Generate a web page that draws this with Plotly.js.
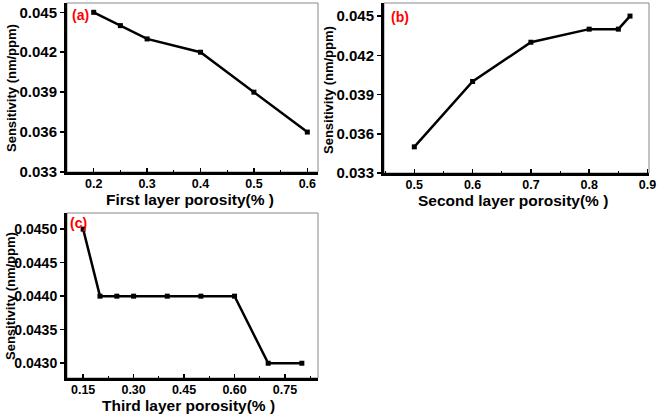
<!DOCTYPE html>
<html>
<head>
<meta charset="utf-8">
<script src="https://cdn.plot.ly/plotly-3.0.1.min.js"></script>
<style>html,body{margin:0;padding:0;background:#fff;}#chart{width:661px;height:414px;}</style>
</head>
<body>
<div id="chart"></div>
<script>
// Panel (a): first layer porosity
const firstPorosity = [0.2, 0.25, 0.3, 0.4, 0.5, 0.6];
const firstSensitivity = [0.045, 0.044, 0.043, 0.042, 0.039, 0.036];
// Panel (b): second layer porosity
const secondPorosity = [0.5, 0.6, 0.7, 0.8, 0.85, 0.87];
const secondSensitivity = [0.035, 0.040, 0.043, 0.044, 0.044, 0.045];
// Panel (c): third layer porosity
const thirdPorosity = [0.15, 0.2, 0.25, 0.3, 0.4, 0.5, 0.6, 0.7, 0.8];
const thirdSensitivity = [0.045, 0.044, 0.044, 0.044, 0.044, 0.044, 0.044, 0.043, 0.043];

const panelLabels = ['(a)', '(b)', '(c)'];
const xTitles = ['First layer porosity(% )', 'Second layer porosity(% )', 'Third layer porosity(% )'];
const yTitle = 'Sensitivity (nm/ppm)';

const W = 661, H = 414;
const fx = p => p / W;
const fy = p => 1 - p / H;

const FONT = 'Liberation Sans, Arial, sans-serif';

function trace(x, y, xa, ya) {
  return {
    x: x, y: y, xaxis: xa, yaxis: ya, type: 'scatter', mode: 'lines+markers',
    line: {color: '#000', width: 2.5},
    marker: {symbol: 'square', size: 5, color: '#000'},
    showlegend: false, hoverinfo: 'skip'
  };
}

const data = [
  trace(firstPorosity, firstSensitivity, 'x', 'y'),
  trace(secondPorosity, secondSensitivity, 'x2', 'y2'),
  trace(thirdPorosity, thirdSensitivity, 'x3', 'y3')
];

function xaxis(domain, range, dtick, tick0, fmt, anchor) {
  return {
    domain: domain, range: range, dtick: dtick, tick0: tick0, tickformat: fmt,
    anchor: anchor, showgrid: false, zeroline: false,
    showline: true, linecolor: '#000', linewidth: 3,
    ticks: 'inside', ticklen: 4, tickwidth: 1.5, tickcolor: '#000',
    ticklabelstandoff: -2,
    minor: {ticks: 'inside', ticklen: 2, dtick: dtick / 2, tickcolor: '#000', tickwidth: 1},
    tickfont: {family: FONT, size: 12.5, color: '#000', weight: 'bold'},
    fixedrange: true
  };
}
function yaxis(domain, range, dtick, tick0, fmt, anchor, fs) {
  return {
    domain: domain, range: range, dtick: dtick, tick0: tick0, tickformat: fmt,
    anchor: anchor, showgrid: false, zeroline: false,
    showline: true, linecolor: '#000', linewidth: 3,
    ticks: 'outside', ticklen: 4, tickwidth: 1.5, tickcolor: '#000',
    tickfont: {family: FONT, size: fs, color: '#000', weight: 'bold'},
    fixedrange: true
  };
}

const dA = {x: [fx(67), fx(318)], y: [fy(172), fy(3)]};
const dB = {x: [fx(384), fx(649)], y: [fy(173), fy(3)]};
const dC = {x: [fx(67), fx(318)], y: [fy(378), fy(213)]};

const layout = {
  width: W, height: H,
  margin: {l: 0, r: 0, t: 0, b: 0},
  paper_bgcolor: '#fff', plot_bgcolor: '#fff',
  showlegend: false,
  xaxis: xaxis(dA.x, [0.15, 0.62], 0.1, 0.2, '.1f', 'y'),
  yaxis: yaxis(dA.y, [0.033, 0.0457], 0.003, 0.033, '.3f', 'x', 15),
  xaxis2: xaxis(dB.x, [0.448, 0.9026], 0.1, 0.5, '.1f', 'y2'),
  yaxis2: yaxis(dB.y, [0.033, 0.046], 0.003, 0.033, '.3f', 'x2', 15),
  xaxis3: xaxis(dC.x, [0.102, 0.848], 0.15, 0.15, '.2f', 'y3'),
  yaxis3: yaxis(dC.y, [0.04278, 0.04524], 0.0005, 0.043, '.4f', 'x3', 14),
  shapes: [
    ['x', 'y'], ['x2', 'y2'], ['x3', 'y3']
  ].map(([xa, ya]) => ({
    type: 'rect', xref: xa + ' domain', yref: ya + ' domain',
    x0: 0, x1: 1, y0: 0, y1: 1, layer: 'below',
    line: {color: '#888', width: 1}
  })),
  annotations: []
};

// panel labels
const labelPos = [[70, 15, 'x', 'y'], [389, 17, 'x2', 'y2'], [68, 223, 'x3', 'y3']];
labelPos.forEach((p, i) => {
  layout.annotations.push({
    text: '<b>' + panelLabels[i] + '</b>', xref: 'paper', yref: 'paper',
    x: fx(p[0]), y: fy(p[1]), xanchor: 'left', yanchor: 'middle', showarrow: false,
    font: {family: FONT, size: 14, color: '#ff0000'}
  });
});
// x titles
const xtPos = [[190, 199], [513, 201], [188, 405]];
xtPos.forEach((p, i) => {
  layout.annotations.push({
    text: '<b>' + xTitles[i] + '</b>', xref: 'paper', yref: 'paper',
    x: fx(p[0]), y: fy(p[1]), xanchor: 'center', yanchor: 'middle', showarrow: false,
    font: {family: FONT, size: 15.5, color: '#000'}
  });
});
// y titles
const ytPos = [[11, 88], [329, 90], [10, 296]];
ytPos.forEach((p, i) => {
  layout.annotations.push({
    text: '<b>' + yTitle + '</b>', xref: 'paper', yref: 'paper', textangle: -90,
    x: fx(p[0]), y: fy(p[1]), xanchor: 'center', yanchor: 'middle', showarrow: false,
    font: {family: FONT, size: 13, color: '#000'}
  });
});

Plotly.newPlot('chart', data, layout, {staticPlot: true, displayModeBar: false});
</script>
</body>
</html>
